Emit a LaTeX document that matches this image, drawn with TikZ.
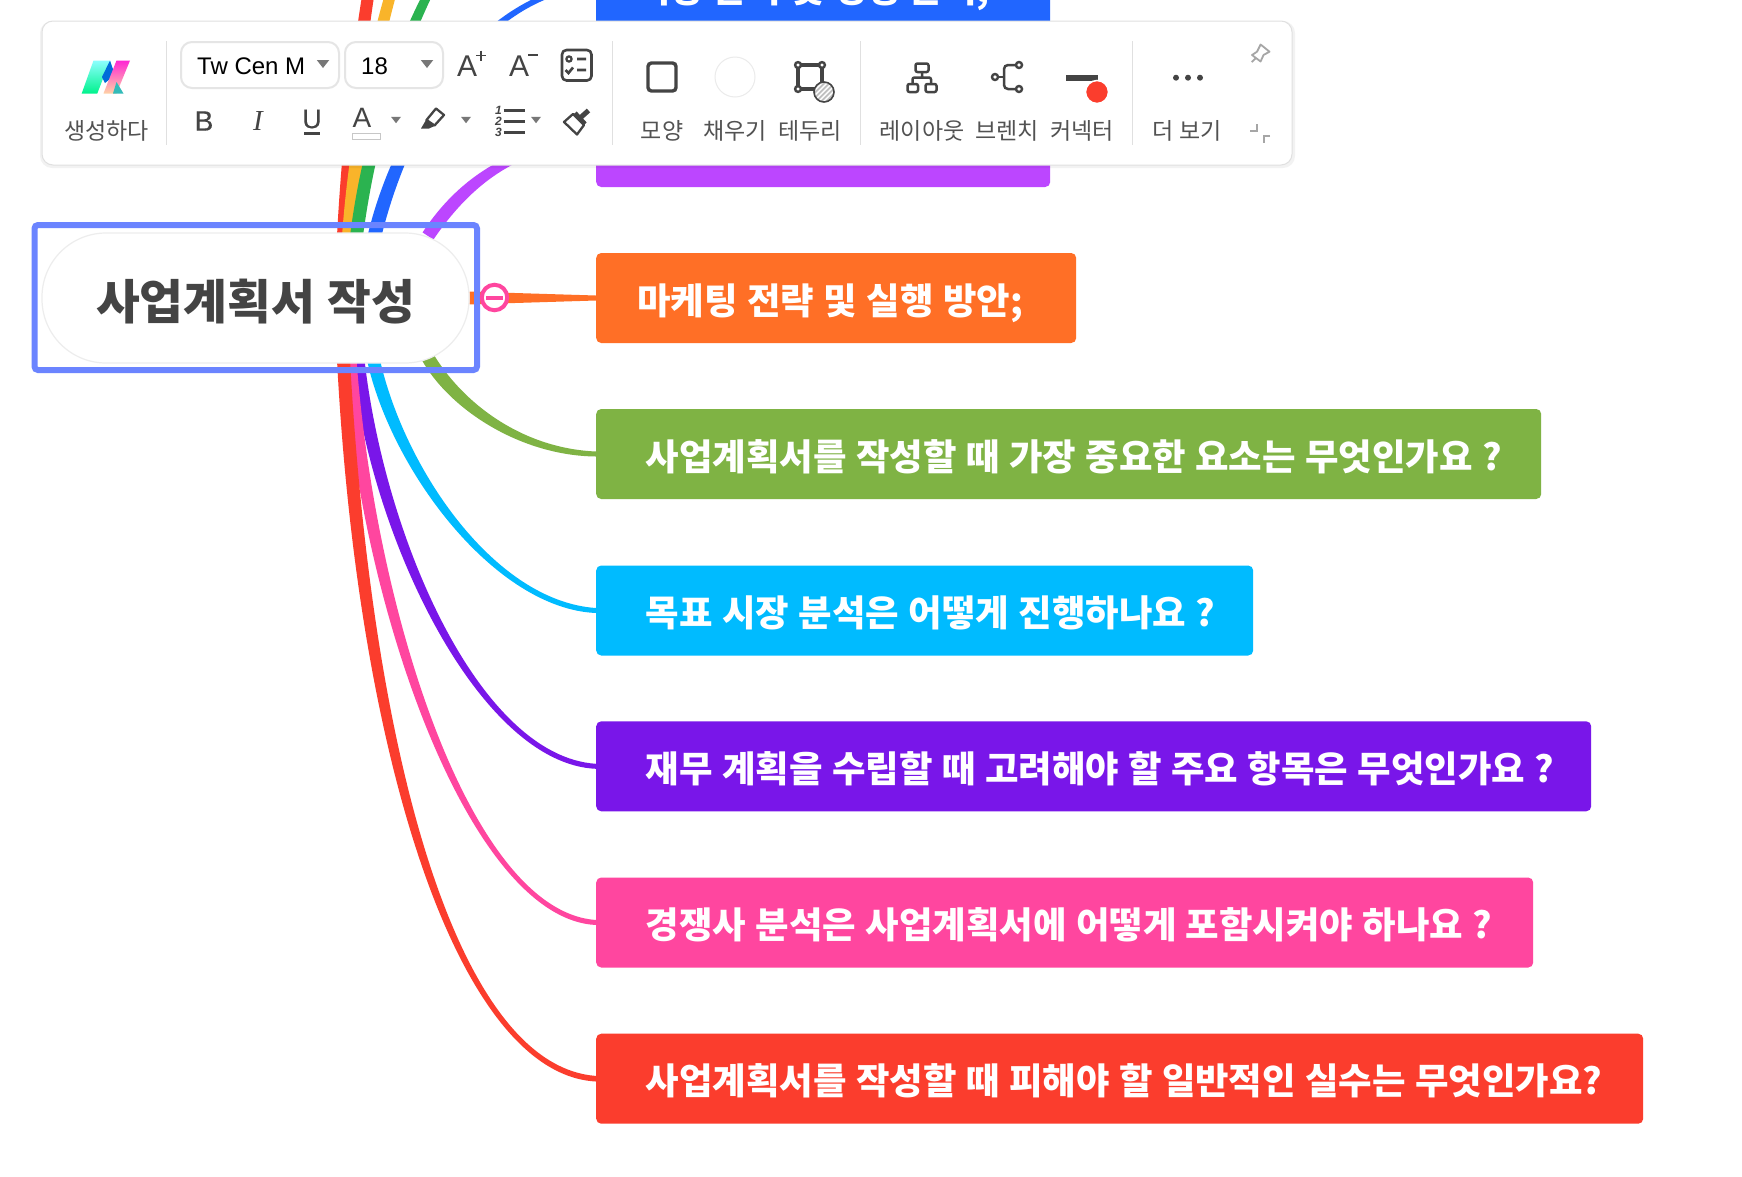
\documentclass[tikz,border=0pt]{standalone}
\usepackage{fontspec}
\setmainfont{Noto Sans CJK KR}
\newfontfamily\latf{Liberation Sans}
\newfontfamily\latm{Liberation Sans}[FakeBold=0.5]
\newfontfamily\serf{Liberation Serif}
\usetikzlibrary{calc,backgrounds}
\newcommand{\myfs}[1]{\fontsize{#1}{#1}\selectfont}
\definecolor{cRed}{HTML}{FB3D2D}
\definecolor{cYel}{HTML}{F9B42A}
\definecolor{cGr}{HTML}{2BB350}
\definecolor{cBlue}{HTML}{2166FF}
\definecolor{cPur}{HTML}{BC46FF}
\definecolor{cOra}{HTML}{FF6F26}
\definecolor{cGrn}{HTML}{7FB344}
\definecolor{cCya}{HTML}{00BBFF}
\definecolor{cVio}{HTML}{7916E9}
\definecolor{cPnk}{HTML}{FF469F}
\definecolor{cSel}{HTML}{6B84FF}
\definecolor{cIcon}{HTML}{444444}
\definecolor{cGray}{HTML}{777777}
\tikzset{
  topicbox/.style={anchor=west,rounded corners=5pt,inner sep=0pt,minimum height=90pt,text=white,
    font=\bfseries\myfs{36.4},text height=42pt,text depth=10pt,align=left,
    execute at begin node={\spaceskip=9.5pt\relax}},
  tlab/.style={inner sep=0pt,text=black!68,font=\myfs{23}},
  tglyph/.style={inner sep=0pt,text=cIcon},
  sepline/.style={draw=black!12,line width=1pt},
  combo/.style={draw=black!10,line width=2pt,fill=white,rounded corners=11pt},
  tri/.style={fill=cGray},
  icon/.style={draw=cIcon,line width=2.6pt,line join=round}
}
% colour, start, control 1, control 2, end, start half offset x, y, end half height
\newcommand{\conn}[8]{\fill[#1] ($(#2)-(#6,#7)$) .. controls ($(#3)-1.1*(#6,#7)$) and ($(#4)+(0,1.5*#8)$) .. ($(#5)+(0,#8)$) -- ($(#5)-(0,#8)$) .. controls ($(#4)-(0,1.5*#8)$) and ($(#3)+1.1*(#6,#7)$) .. ($(#2)+(#6,#7)$) -- cycle;}
\newcommand{\dtri}[3]{\fill[tri] (#1-#3/2,#2-#3*0.32) -- (#1+#3/2,#2-#3*0.32) -- (#1,#2+#3*0.32) -- cycle;}
\begin{document}
\begin{tikzpicture}[x=1pt,y=-1pt]
\path[clip,use as bounding box] (0,0) rectangle (1742,1176);
% root and topic boxes
\node (r) [draw=black!7,line width=1.2pt,fill=white,rounded corners=64pt,minimum width=427pt,minimum height=130pt,inner sep=0pt,
  text=cIcon,font=\bfseries\myfs{47.6},text height=53pt,text depth=9.2pt,execute at begin node={\spaceskip=12.4pt\relax}] at (255.5,298) {사업계획서 작성};
\node (b2) [topicbox,fill=cBlue,text width=454pt] at (596,-14) {\hspace*{41pt}시장 분석 및 경쟁 분석;};
\node (b3) [topicbox,fill=cPur,text width=454pt] at (596,142) {};
\node (b4) [topicbox,fill=cOra,text width=480pt] at (596,298) {\hspace*{41pt}마케팅 전략 및 실행 방안;};
\node (b5) [topicbox,fill=cGrn,text width=945pt] at (596,454) {\hspace*{49.5pt}사업계획서를 작성할 때 가장 중요한 요소는 무엇인가요 ?};
\node (b6) [topicbox,fill=cCya,text width=657pt] at (596,610.5) {\hspace*{49.5pt}목표 시장 분석은 어떻게 진행하나요 ?};
\node (b7) [topicbox,fill=cVio,text width=995pt] at (596,766.3) {\hspace*{49.5pt}재무 계획을 수립할 때 고려해야 할 주요 항목은 무엇인가요 ?};
\node (b8) [topicbox,fill=cPnk,text width=937pt] at (596,922.5) {\hspace*{49.5pt}경쟁사 분석은 사업계획서에 어떻게 포함시켜야 하나요 ?};
\node (b9) [topicbox,fill=cRed,text width=1047pt] at (596,1078.7) {\hspace*{49.5pt}사업계획서를 작성할 때 피해야 할 일반적인 실수는 무엇인가요?};
\coordinate (e0) at (596,-482);
\coordinate (e1) at (596,-326);
\coordinate (e1b) at (596,-170);
% start points of the connectors, on the root
\coordinate (sA) at ($(r.center)+(88,-62)$);
\coordinate (sB) at ($(r.center)+(93,-62)$);
\coordinate (sC) at ($(r.center)+(101,-62)$);
\coordinate (sD) at ($(r.center)+(119,-62)$);
\coordinate (sE) at ($(r.center)+(172.5,-62)$);
\coordinate (sF) at ($(r.center)+(171.5,58)$);
\coordinate (sG) at ($(r.center)+(118,62)$);
\coordinate (sH) at ($(r.center)+(102.5,62)$);
\coordinate (sI) at ($(r.center)+(94.5,62)$);
\coordinate (sJ) at ($(r.center)+(88,62)$);
\begin{scope}[on background layer]
\fill[white] (0,0) rectangle (1742,1176);
\conn{cRed}{sA}{365,-160}{470,-474}{e0}{6.5}{0}{-2.5}
\conn{cYel}{sB}{372,-75}{505,-320}{e1}{6.5}{0}{-2.5}
\conn{cGr}{sC}{385,15}{500,-165}{e1b}{6.5}{0}{-2.5}
\conn{cBlue}{sD}{405,110}{492,-12}{b2.west}{7}{0}{-2.5}
\conn{cPur}{sE}{472,170}{530,142}{b3.west}{5.4}{3.6}{-2.5}
\fill[cOra] ($(r.east)+(0,-6.4)$) -- ($(b4.west)+(0,-2.5)$) -- ($(b4.west)+(0,2.5)$) -- ($(r.east)+(0,6.4)$) -- cycle;
\conn{cGrn}{sF}{455,405}{520,452}{b5.west}{5.4}{-3.6}{2.5}
\conn{cCya}{sG}{398,470}{495,605}{b6.west}{6.5}{0}{2.5}
\conn{cVio}{sH}{378,540}{480,760}{b7.west}{6.5}{0}{2.5}
\conn{cPnk}{sI}{368,610}{470,915}{b8.west}{6.5}{0}{2.5}
\conn{cRed}{sJ}{365,760}{458,1070}{b9.west}{6.5}{0}{2.8}
\end{scope}
% selection frame and collapse button
\draw[cSel,line width=6pt,rounded corners=3.5pt] (34.5,225) rectangle (477,370);
\node (m) [circle,draw=cPnk,line width=4pt,fill=white,minimum size=25.5pt,inner sep=0pt] at (494.5,297.5) {};
\draw[cPnk,line width=4pt] ($(m.center)+(-8.5,0)$) -- ($(m.center)+(8.5,0)$);
% toolbar
\fill[black,opacity=.05,rounded corners=12pt] (40,21) rectangle (1295,168);
\node (tb) [draw=black!12,line width=1pt,fill=white,rounded corners=11pt,minimum width=1250pt,minimum height=144pt,inner sep=0pt] at (667,93) {};
\foreach \x in {166.7,612,860.6,1132.5} \draw[sepline] (\x,41) -- (\x,145);
% logo
\shade[top color=cyan!45,bottom color=teal!20!green!50!cyan] (81.7,93.5) -- (93.5,60.5) -- (110,60.5) -- (97.3,93.5) -- cycle;
\fill[blue!50!cyan!85!black] (110,60.5) -- (115,75) -- (105,83) -- (102,77) -- cycle;
\shade[top color=magenta!80!red!85,bottom color=orange!35] (116.5,60.5) -- (130,60.5) -- (116.5,93.5) -- (103.5,93.5) -- cycle;
\fill[cyan!60!green!80] (116.5,82) -- (123.5,93.5) -- (113,93.5) -- cycle;
% combo boxes
\node (cb1) [combo,minimum width=158pt,minimum height=46pt,inner sep=0pt] at (260,65) {};
\node (cb2) [combo,minimum width=98pt,minimum height=46pt,inner sep=0pt] at (394,65) {};
\node (t1) [anchor=west,inner sep=0pt,text=black,font=\latf\myfs{24}] at (197,66.5) {Tw Cen M};
\node (t2) [anchor=west,inner sep=0pt,text=black,font=\latf\myfs{24}] at (361,66.5) {18};
\dtri{323}{64}{12.5}
\dtri{427}{64}{12.5}
% row 1 glyphs
\node (ap) [tglyph,font=\latf\myfs{30}] at (467,66) {A};
\draw[cIcon,line width=1.8pt] (476,55.5) -- (486,55.5) (481,50.5) -- (481,60.5);
\node (am) [tglyph,font=\latf\myfs{30}] at (519,66) {A};
\draw[cIcon,line width=1.8pt] (528,55) -- (538,55);
\draw[icon,rounded corners=4.5pt] (562,50) rectangle (591.5,80.5);
\draw[cIcon,line width=2.2pt] (569,59) circle (2.6);
\draw[cIcon,line width=2.6pt] (577,59) -- (586,59) (577,70) -- (586,70) (565.5,70) -- (568.5,73) -- (573,67.5);
% row 2 glyphs
\node (gb) [tglyph,font=\latm\myfs{28}] at (204,121) {B};
\node (gi) [tglyph,font=\serf\itshape\myfs{29}] at (258,121) {I};
\node (gu) [tglyph,font=\latm\myfs{27}] at (312,119) {U};
\draw[cIcon,line width=2.6pt] (304,133.5) -- (320,133.5);
\node (ga) [tglyph,font=\latf\myfs{28}] at (362,118) {A};
\draw[black!22,line width=1pt,fill=white] (352.5,133.5) rectangle (380.5,139);
\dtri{396}{120}{10}
\draw[icon,line width=2.3pt] (436,108.5) -- (444,115) -- (434.5,125.5) -- (426.5,120) -- cycle;
\fill[cIcon] (426,120) -- (434.5,126) -- (429,128.5) -- (421,128.5) -- cycle;
\dtri{466}{120}{10}
\node (n1) [tglyph,font=\latf\bfseries\itshape\myfs{12}] at (498.5,110.5) {1};
\node (n2) [tglyph,font=\latf\bfseries\itshape\myfs{12}] at (498.5,121) {2};
\node (n3) [tglyph,font=\latf\bfseries\itshape\myfs{12}] at (498.5,132) {3};
\draw[cIcon,line width=3pt] (503.5,110.5) -- (525,110.5) (503.5,121) -- (525,121) (503.5,132) -- (525,132);
\dtri{536}{120}{10}
\draw[icon,line width=2.3pt] (564,122) -- (573,114) -- (584,125) -- (577,134.5) -- cycle;
\draw[cIcon,line width=4.5pt] (575,113) -- (585,124);
\draw[cIcon,line width=5pt] (579.5,118.5) -- (588.5,110.5);
% shape, fill, border
\draw[cIcon,line width=3.4pt,rounded corners=3.5pt] (648,63) rectangle (676,91);
\draw[draw=black!8,line width=1pt,fill=white] (735,77) circle (20);
\draw[cIcon,line width=3.2pt] (798,65) rectangle (822,89);
\foreach \p in {(798,65),(822,65),(798,89)} \draw[cIcon,line width=2.4pt,fill=white] \p circle (2.9);
\begin{scope}
\clip (824,92) circle (10);
\fill[black!25] (814,82) rectangle (834,102);
\foreach \k in {-16,-11,...,16} \draw[white,line width=1.4pt] (824+\k-12,104) -- (824+\k+12,80);
\end{scope}
\draw[cIcon,line width=1.6pt] (824,92) circle (10);
% layout
\draw[cIcon,line width=2.5pt,rounded corners=2pt] (915.5,63.5) rectangle (928.5,72) (907.5,84) rectangle (918,92) (925.5,84) rectangle (936.5,92);
\draw[cIcon,line width=2.5pt,rounded corners=2pt] (912.5,84) -- (912.5,77.5) -- (931,77.5) -- (931,84) (922,72) -- (922,77.5);
% branch
\draw[cIcon,line width=2.5pt,rounded corners=4pt] (1016,65) -- (1004,65) -- (1004,89) -- (1016,89);
\draw[cIcon,line width=2.5pt] (998,77) -- (1004,77);
\foreach \p in {(995,77),(1019,65),(1019,89)} \draw[cIcon,line width=2.4pt,fill=white] \p circle (3);
% connector colour
\fill[cIcon] (1066,75) rectangle (1098,81);
\draw[white,line width=1.5pt,fill=cRed] (1097,92) circle (11.5);
% more
\foreach \x in {1176,1188,1200} \fill[cIcon] (\x,77.7) circle (3);
% pin and collapse
\draw[black!35,line width=1.8pt,line join=round] (1260.6,44.5) -- (1269.5,51.7) -- (1263.5,55) -- (1260.6,61.5) -- (1252,55) -- (1257,51.7) -- cycle (1255.5,58.5) -- (1251.7,62);
\draw[black!35,line width=2pt] (1250,130.5) -- (1257,130.5) -- (1257,123.5) (1270,135.5) -- (1263.5,135.5) -- (1263.5,143);
% labels
\node (l1) [tlab] at (106.7,130.5) {생성하다};
\node (l2) [tlab] at (662,130.5) {모양};
\node (l3) [tlab] at (735,130.5) {채우기};
\node (l4) [tlab] at (810,130.5) {테두리};
\node (l5) [tlab] at (922,130.5) {레이아웃};
\node (l6) [tlab] at (1007,130.5) {브렌치};
\node (l7) [tlab] at (1082,130.5) {커넥터};
\node (l8) [tlab] at (1187,130.5) {더 보기};
\end{tikzpicture}
\end{document}
